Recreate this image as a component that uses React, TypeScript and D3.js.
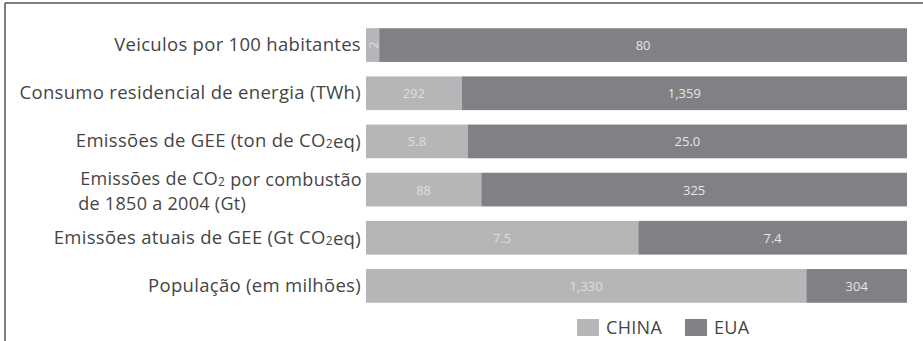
import React, { useEffect, useRef } from "react";
import * as d3 from "d3";

const categories = [
  "Veiculos por 100 habitantes",
  "Consumo residencial de energia (TWh)",
  "Emissões de GEE (ton de CO2eq)",
  "Emissões de CO2 por combustão de 1850 a 2004 (Gt)",
  "Emissões atuais de GEE (Gt CO2eq)",
  "População (em milhões)",
];
const chinaValues = [2, 292, 5.8, 88, 7.5, 1330];
const euaValues = [80, 1359, 25.0, 325, 7.4, 304];
const valueLabelsChina = ["2", "292", "5.8", "88", "7.5", "1,330"];
const valueLabelsEua = ["80", "1,359", "25.0", "325", "7.4", "304"];
const seriesNames = ["CHINA", "EUA"];
const colors = ["#b6b6b8", "#818085"];

const W = 923;
const H = 341;
const FONT = "'Open Sans', sans-serif";

export default function App() {
  const ref = useRef<SVGSVGElement>(null);
  useEffect(() => {
    const svg = d3.select(ref.current);
    svg.selectAll("*").remove();
    const x = d3.scaleLinear().domain([0, 1]).range([366, 907]);
    const y = d3.scaleBand<number>().domain(d3.range(categories.length)).range([21, 310]).paddingInner(0.3).paddingOuter(0.15);

    // frame
    svg.append("line").attr("x1", 5).attr("x2", W).attr("y1", 3).attr("y2", 3).attr("stroke", "#555").attr("stroke-width", 1.5);
    svg.append("line").attr("x1", 5).attr("x2", 5).attr("y1", 3).attr("y2", H).attr("stroke", "#555").attr("stroke-width", 1.5);

    const labelG = svg.append("g");
    const addLabel = (g: any, text: string, xPos: number, yPos: number, anchor: string, size = 18.5) => {
      const t = g.append("text").attr("x", xPos).attr("y", yPos).attr("text-anchor", anchor)
        .attr("font-family", FONT).attr("font-size", size).attr("letter-spacing", 0.3).attr("fill", "#454545");
      const parts = text.split(/(CO2)/);
      parts.forEach((p) => {
        if (p === "CO2") {
          t.append("tspan").text("CO");
          t.append("tspan").text("2").attr("font-size", 12).attr("dy", 1);
          t.append("tspan").text("").attr("dy", -1);
        } else if (p.length) {
          t.append("tspan").text(p);
        }
      });
      return t;
    };

    categories.forEach((c, i) => {
      const total = chinaValues[i] + euaValues[i];
      const y0 = y(i)!;
      const bh = y.bandwidth();
      const xs = x(chinaValues[i] / total);
      svg.append("rect").attr("x", x(0)).attr("y", y0).attr("width", xs - x(0)).attr("height", bh).attr("fill", colors[0]);
      svg.append("rect").attr("x", xs).attr("y", y0).attr("width", x(1) - xs).attr("height", bh).attr("fill", colors[1]);

      const cy = y0 + bh / 2;
      const cxC = (x(0) + xs) / 2;
      const cxE = (xs + x(1)) / 2;
      const chinaLbl = svg.append("text").attr("font-family", FONT).attr("font-size", 13).attr("fill", "#dedede")
        .attr("text-anchor", "middle").attr("dominant-baseline", "central").text(valueLabelsChina[i]);
      if (xs - x(0) < 20) {
        chinaLbl.attr("transform", `translate(${cxC},${cy}) rotate(-90)`);
      } else {
        chinaLbl.attr("x", cxC).attr("y", cy);
      }
      svg.append("text").attr("font-family", FONT).attr("font-size", 13).attr("fill", "#e6e6e6")
        .attr("text-anchor", "middle").attr("dominant-baseline", "central").attr("x", cxE).attr("y", cy).text(valueLabelsEua[i]);

      if (i === 3) {
        const l1 = addLabel(labelG, "Emissões de CO2 por combustão", 362, cy - 5, "end", 18);
        const bb = (l1.node() as SVGTextElement).getBBox();
        addLabel(labelG, "de 1850 a 2004 (Gt)", bb.x - 2, cy + 20, "start", 18);
      } else {
        addLabel(labelG, c, 361, cy + 6, "end");
      }
    });

    // legend
    const lg = svg.append("g");
    const items = [{ x: 577, name: seriesNames[0], c: colors[0] }, { x: 685, name: seriesNames[1], c: colors[1] }];
    items.forEach((it) => {
      lg.append("rect").attr("x", it.x).attr("y", 319).attr("width", 22).attr("height", 17).attr("fill", it.c);
      lg.append("text").attr("x", it.x + 29).attr("y", 334).attr("font-family", FONT).attr("font-size", 18)
        .attr("letter-spacing", 0.3).attr("fill", "#454545").text(it.name);
    });
  }, []);
  return (
    <svg ref={ref} width={W} height={H} style={{ position: "absolute", left: 0, top: 0, background: "#fff" }} />
  );
}
